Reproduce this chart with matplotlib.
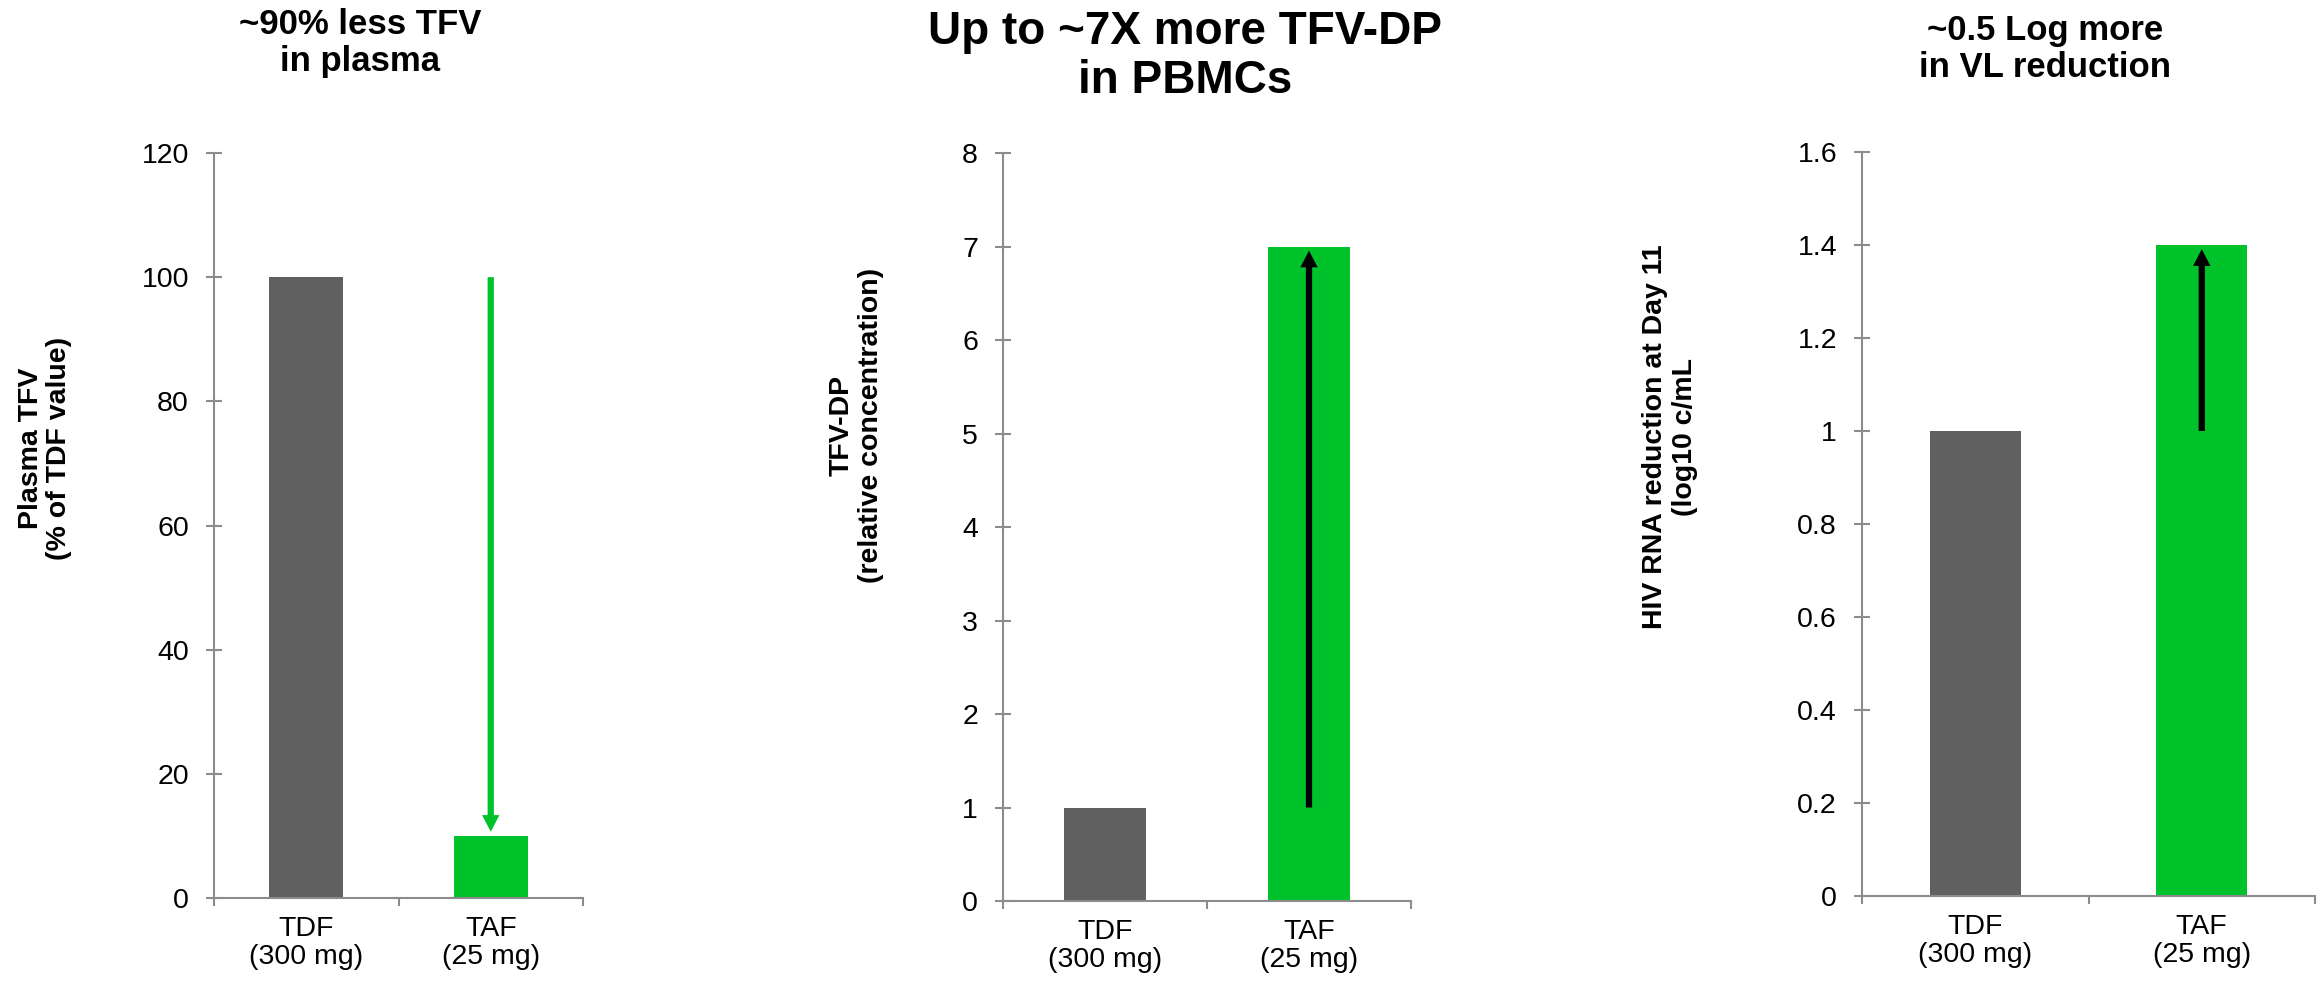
import matplotlib
matplotlib.use("Agg")
import matplotlib.pyplot as plt
from matplotlib.ticker import FuncFormatter, FixedLocator

plt.rcParams["font.family"] = ["Liberation Sans", "DejaVu Sans"]

# ---- data -------------------------------------------------------------
categories = ["TDF\n(300 mg)", "TAF\n(25 mg)"]

plasma_tfv = [100, 10]           # % of TDF value
tfv_dp = [1, 7]                  # relative concentration
vl_reduction = [1.0, 1.4]        # log10 c/mL

titles = ["~90% less TFV\nin plasma",
          "Up to ~7X more TFV-DP\nin PBMCs",
          "~0.5 Log more\nin VL reduction"]
ylabels = ["Plasma TFV\n(% of TDF value)",
           "TFV-DP\n(relative concentration)",
           "HIV RNA reduction at Day 11\n(log10 c/mL"]
yticks = [[0, 20, 40, 60, 80, 100, 120],
          [0, 1, 2, 3, 4, 5, 6, 7, 8],
          [0, 0.2, 0.4, 0.6, 0.8, 1.0, 1.2, 1.4, 1.6]]

# ---- styling ----------------------------------------------------------
W, H, DPI = 2321, 986, 100
GREY_BAR = "#606060"
GREEN = "#00C22B"
AXIS_GREY = "#8C8C8C"
BAR_W = 0.4

fig = plt.figure(figsize=(W / DPI, H / DPI), dpi=DPI)
fig.patch.set_facecolor("white")

# axes boxes in pixels: left, right, top, bottom
boxes = [(214, 583, 153, 898),
         (1003, 1411, 153, 901),
         (1862, 2315, 152, 896)]
title_pos = [(360, 8, 25), (1185, 10, 33), (2045, 14, 25)]      # x centre, top, size
ylabel_pos = [(45, 448), (856, 425), (1670, 437)]
arrow_color = [GREEN, "black", "black"]
series = [plasma_tfv, tfv_dp, vl_reduction]


def fmt(v, _):
    return f"{v:g}"


for i, (vals, box) in enumerate(zip(series, boxes)):
    l, r, t, b = box
    ax = fig.add_axes([l / W, 1 - b / H, (r - l) / W, (b - t) / H])
    x = list(range(len(vals)))
    ax.bar(x, vals, width=BAR_W, color=[GREY_BAR, GREEN], zorder=2)

    ax.set_xlim(-0.5, len(vals) - 0.5)
    ax.set_ylim(yticks[i][0], yticks[i][-1])

    for side in ("top", "right"):
        ax.spines[side].set_visible(False)
    for side in ("left", "bottom"):
        ax.spines[side].set_color(AXIS_GREY)
        ax.spines[side].set_linewidth(1.5)

    ax.yaxis.set_major_locator(FixedLocator(yticks[i]))
    ax.yaxis.set_major_formatter(FuncFormatter(fmt))
    ax.tick_params(axis="y", direction="inout", length=12, width=1.5,
                   color=AXIS_GREY, labelsize=20.5, pad=12)

    # category boundaries carry the tick marks, centres carry the labels
    ax.set_xticks([k - 0.5 for k in range(len(vals) + 1)])
    ax.set_xticklabels([])
    ax.set_xticks(x, minor=True)
    ax.set_xticklabels(categories, minor=True, fontsize=20.5, linespacing=1.1)
    ax.tick_params(axis="x", which="major", direction="out", length=6,
                   width=1.5, color=AXIS_GREY)
    ax.tick_params(axis="x", which="minor", length=0, pad=13)

    # arrow from the TDF level to the TAF bar
    ax.annotate("", xy=(1, vals[1]), xytext=(1, vals[0]),
                arrowprops=dict(arrowstyle="simple,head_length=1.2,head_width=1.25,tail_width=0.45",
                                color=arrow_color[i], lw=0, mutation_scale=10,
                                shrinkA=0, shrinkB=3),
                zorder=3)

    tx, ty, ts = title_pos[i]
    fig.text(tx / W, 1 - ty / H, titles[i], ha="center", va="top",
             fontsize=ts, fontweight="bold", linespacing=1.15)

    yx, yy = ylabel_pos[i]
    fig.text(yx / W, 1 - yy / H, ylabels[i], ha="center", va="center",
             rotation=90, fontsize=20.5, fontweight="bold",
             multialignment="center", linespacing=1.15)

fig.savefig("out.png", dpi=DPI, facecolor="white")
